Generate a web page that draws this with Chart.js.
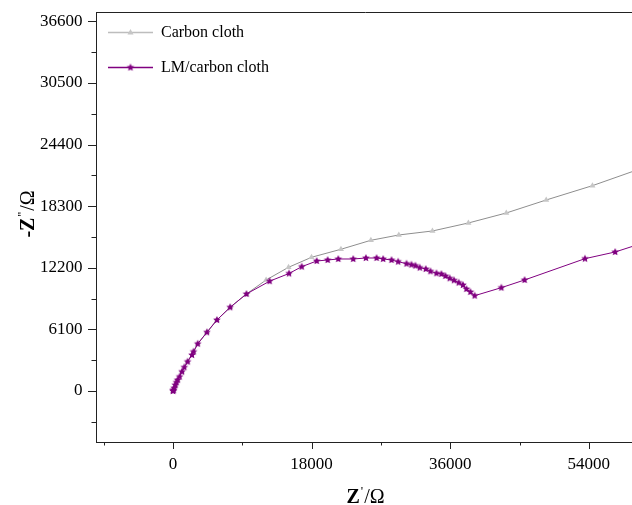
<!DOCTYPE html>
<html>
<head>
<meta charset="utf-8">
<title>Nyquist plot</title>
<script src="https://cdn.jsdelivr.net/npm/chart.js@4.4.0/dist/chart.umd.min.js"></script>
<style>
  html, body { margin: 0; padding: 0; background: #fff; overflow: hidden; }
  #eis { display: block; }
</style>
</head>
<body>
<canvas id="eis" width="640" height="505"></canvas>
<script>
// Nyquist data: Z' (ohm) on x, -Z'' (ohm) on y
const carbonX = [0, 298, 596, 1166, 1892, 2670, 3214, 4406, 5702, 7426, 9539,
  12092, 15008, 17988, 21812, 25700, 29328, 33696, 38362, 43286, 48470, 54471, 60600];
const carbonY = [0, 594, 1089, 1911, 2901, 3891, 4673, 5811, 7029, 8287, 9604,
  10989, 12247, 13237, 14030, 14920, 15445, 15841, 16633, 17624, 18910, 20327, 21975];

const lmX = [0, 30, 78, 150, 298, 440, 596, 855, 1166, 1464, 1892, 2462, 2670, 3214, 4406, 5702,
  7426, 9539, 12545, 15072, 16718, 18662, 20088, 21462, 23406, 25051, 26438, 27294, 28382,
  29238, 30326, 30974, 31493, 32050, 32828, 33437, 34214, 34862, 35381, 35938, 36496, 37105,
  37662, 38102, 38621, 39178, 42638, 45658, 53499, 57426, 60600];
const lmY = [0, 40, 110, 292, 594, 848, 1089, 1416, 1911, 2347, 2901, 3564, 3891, 4673, 5811, 7029,
  8287, 9604, 10871, 11633, 12306, 12870, 12969, 13068, 13068, 13167, 13167, 13068, 12969,
  12801, 12603, 12504, 12405, 12207, 12079, 11851, 11653, 11583, 11385, 11158, 10960, 10722,
  10495, 10098, 9801, 9435, 10227, 10990, 13099, 13762, 14545];

const seriesNames = ["Carbon cloth", "LM/carbon cloth"];
// tick positions (every value gets a mark) and the ones that carry a label
const xTickValues = [-9000, 0, 9000, 18000, 27000, 36000, 45000, 54000];
const xTickLabels = [0, 18000, 36000, 54000];
const yTickValues = [-3050, 0, 3050, 6100, 9150, 12200, 15250, 18300, 21350, 24400, 27450, 30500, 33550, 36600];
const yTickLabels = [0, 6100, 12200, 18300, 24400, 30500, 36600];

const serif = "'Liberation Serif', 'Times New Roman', serif";
const GREY_LINE = "#8e8e8e";
const GREY_MARK = "#c6c6c6";
const PURPLE = "#800080";

function toPoints(xs, ys) {
  return xs.map((x, i) => ({ x: x, y: ys[i] }));
}

// small filled five-point star used as the LM marker
function starImage(color, r) {
  const c = document.createElement("canvas");
  const s = Math.ceil(r * 2 + 2);
  c.width = c.height = s;
  const g = c.getContext("2d");
  g.fillStyle = color;
  g.beginPath();
  for (let i = 0; i < 10; i++) {
    const a = -Math.PI / 2 + i * Math.PI / 5;
    const rr = i % 2 ? r * 0.48 : r;
    g.lineTo(s / 2 + rr * Math.cos(a), s / 2 + rr * Math.sin(a));
  }
  g.closePath();
  g.fill();
  return c;
}
const star = starImage(PURPLE, 4);

function isLabelled(list, v) {
  return list.some(t => Math.abs(t - v) < 1);
}

// draws a run of text pieces with their own fonts and raise
function drawRun(ctx, parts, cx, baseY) {
  let w = 0;
  parts.forEach(p => { ctx.font = p.font; w += ctx.measureText(p.t).width + (p.gap || 0); });
  let x = cx - w / 2;
  parts.forEach(p => {
    ctx.font = p.font;
    ctx.fillText(p.t, x, baseY + (p.dy || 0));
    x += ctx.measureText(p.t).width + (p.gap || 0);
  });
}

const framePlugin = {
  id: "frame",
  afterDraw(chart) {
    const ctx = chart.ctx;
    const area = chart.chartArea;
    const xs = chart.scales.x, ys = chart.scales.y;
    ctx.save();
    ctx.strokeStyle = "#222";
    ctx.lineWidth = 1;
    ctx.beginPath();
    // top edge of the frame
    ctx.moveTo(area.left, Math.round(area.top) + 0.5);
    ctx.lineTo(area.right, Math.round(area.top) + 0.5);
    // tick marks, long on labelled values
    xs.ticks.forEach(t => {
      const px = Math.round(xs.getPixelForValue(t.value)) + 0.5;
      const len = isLabelled(xTickLabels, t.value) ? 7 : 3.5;
      ctx.moveTo(px, area.bottom);
      ctx.lineTo(px, area.bottom + len);
    });
    ys.ticks.forEach(t => {
      const py = Math.round(ys.getPixelForValue(t.value)) + 0.5;
      const len = isLabelled(yTickLabels, t.value) ? 8 : 4.5;
      ctx.moveTo(area.left, py);
      ctx.lineTo(area.left - len, py);
    });
    ctx.stroke();

    // legend inside the plot
    const rows = [
      { y: 32, line: "#bdbdbd", mark: "tri" },
      { y: 67, line: PURPLE, mark: "star" }
    ];
    rows.forEach((r, i) => {
      ctx.strokeStyle = r.line;
      ctx.lineWidth = 1.4;
      ctx.beginPath();
      ctx.moveTo(108, r.y + 0.5);
      ctx.lineTo(153, r.y + 0.5);
      ctx.stroke();
      if (r.mark === "star") {
        ctx.drawImage(star, 130.5 - star.width / 2, r.y + 0.5 - star.height / 2);
      } else {
        ctx.fillStyle = GREY_MARK;
        ctx.beginPath();
        ctx.moveTo(130.5, r.y - 3);
        ctx.lineTo(133.5, r.y + 2.5);
        ctx.lineTo(127.5, r.y + 2.5);
        ctx.closePath();
        ctx.fill();
      }
      ctx.fillStyle = "#000";
      ctx.font = "16px " + serif;
      ctx.textBaseline = "middle";
      ctx.textAlign = "left";
      ctx.fillText(seriesNames[i], 161, r.y + 1);
    });

    // axis titles
    ctx.fillStyle = "#000";
    ctx.textBaseline = "alphabetic";
    ctx.textAlign = "left";
    drawRun(ctx, [
      { t: "Z", font: "bold 20px " + serif, gap: 1 },
      { t: "'", font: "13px " + serif, dy: -8, gap: 1 },
      { t: "/\u03A9", font: "20px " + serif }
    ], (area.left + area.right) / 2, 503);

    ctx.translate(34, 214);
    ctx.rotate(-Math.PI / 2);
    drawRun(ctx, [
      { t: "-Z", font: "bold 20px " + serif, gap: 1 },
      { t: "''", font: "13px " + serif, dy: -8, gap: 1 },
      { t: "/\u03A9", font: "20px " + serif }
    ], 0, 0);
    ctx.restore();
  }
};

const axisLine = { display: true, color: "#222", width: 1 };
const noGrid = { display: true, drawOnChartArea: false, drawTicks: false };
const tickFont = { family: serif, size: 17 };

new Chart(document.getElementById("eis"), {
  type: "scatter",
  data: {
    datasets: [
      {
        label: seriesNames[0],
        data: toPoints(carbonX, carbonY),
        showLine: true,
        borderColor: GREY_LINE,
        borderWidth: 1,
        pointStyle: "triangle",
        pointRadius: 3.5,
        pointBackgroundColor: GREY_MARK,
        pointBorderColor: GREY_MARK,
        pointBorderWidth: 0,
        order: 2
      },
      {
        label: seriesNames[1],
        data: toPoints(lmX, lmY),
        showLine: true,
        borderColor: PURPLE,
        borderWidth: 1,
        pointStyle: star,
        pointRadius: 4,
        order: 1
      }
    ]
  },
  options: {
    responsive: false,
    animation: false,
    events: [],
    layout: { padding: { top: 12, right: 4, left: 0, bottom: 0 } },
    plugins: {
      legend: { display: false },
      tooltip: { enabled: false }
    },
    scales: {
      x: {
        type: "linear",
        min: -10000,
        max: 60000,
        border: axisLine,
        grid: noGrid,
        afterFit: s => { s.height = 63; s.paddingLeft = 0; s.paddingRight = 0; },
        afterBuildTicks: s => { s.ticks = xTickValues.map(v => ({ value: v })); },
        ticks: {
          autoSkip: false,
          maxRotation: 0,
          padding: 12.5,
          color: "#000",
          font: tickFont,
          callback: v => isLabelled(xTickLabels, v) ? String(Math.round(v)) : ""
        }
      },
      y: {
        type: "linear",
        min: -5050,
        max: 37520,
        border: axisLine,
        grid: noGrid,
        afterFit: s => { s.width = 96; s.paddingTop = 0; s.paddingBottom = 0; },
        afterBuildTicks: s => { s.ticks = yTickValues.map(v => ({ value: v })); },
        ticks: {
          autoSkip: false,
          padding: 13.5,
          color: "#000",
          font: tickFont,
          callback: v => isLabelled(yTickLabels, v) ? String(Math.round(v)) : ""
        }
      }
    }
  },
  plugins: [framePlugin]
});
</script>
</body>
</html>
